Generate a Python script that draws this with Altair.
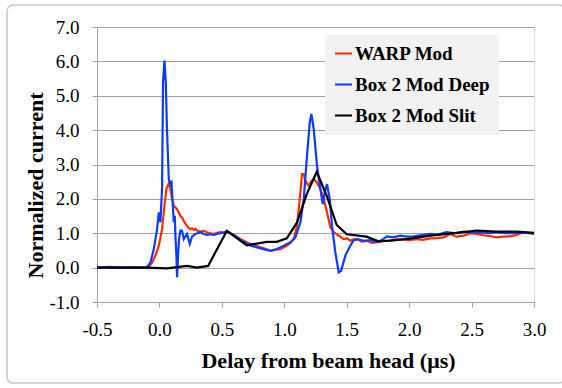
import altair as alt
import pandas as pd

SERIES = ["WARP Mod", "Box 2 Mod Deep", "Box 2 Mod Slit"]
COLORS = ["#ff2a00", "#0b3bff", "#000000"]

RED_X = [-0.5, -0.4, -0.3, -0.2, -0.1, -0.085, -0.058, -0.032, -0.005, 0.021,
         0.040, 0.056, 0.075, 0.088, 0.101, 0.115, 0.128, 0.141, 0.155, 0.168,
         0.182, 0.195, 0.208, 0.221, 0.235, 0.248, 0.262, 0.275, 0.288, 0.301,
         0.328, 0.355, 0.381, 0.408, 0.435, 0.462, 0.488, 0.515, 0.542, 0.568,
         0.595, 0.622, 0.648, 0.675, 0.702, 0.729, 0.769, 0.809, 0.849, 0.889,
         0.929, 0.969, 1.0, 1.022, 1.05, 1.076, 1.102, 1.124, 1.142, 1.156,
         1.169, 1.182, 1.196, 1.215, 1.236, 1.262, 1.289, 1.316, 1.342, 1.369,
         1.396, 1.436, 1.476, 1.503, 1.529, 1.556, 1.583, 1.62, 1.66, 1.70,
         1.743, 1.79, 1.85, 1.90, 1.956, 2.0, 2.063, 2.11, 2.17, 2.22,
         2.276, 2.33, 2.38, 2.436, 2.49, 2.543, 2.6, 2.65, 2.70, 2.75,
         2.81, 2.86, 2.916, 2.96, 3.0]
RED_Y = [0.0, 0.01, 0.0, 0.01, 0.0, 0.02, 0.15, 0.35, 0.64, 1.12,
         1.8, 2.3, 2.45, 2.3, 2.0, 1.8, 1.75, 1.7, 1.6, 1.5,
         1.45, 1.36, 1.28, 1.21, 1.16, 1.12, 1.14, 1.1, 1.13, 1.08,
         1.05, 1.07, 1.03, 1.0, 0.98, 1.01, 1.03, 1.02, 1.05, 1.0,
         0.95, 0.9, 0.83, 0.78, 0.73, 0.69, 0.64, 0.59, 0.55, 0.49,
         0.52, 0.54, 0.6, 0.64, 0.72, 0.83, 1.22, 2.0, 2.72, 2.72,
         2.53, 2.45, 2.38, 2.5, 2.58, 2.48, 2.29, 2.0, 1.61, 1.17,
         1.03, 0.93, 0.83, 0.85, 0.78, 0.82, 0.83, 0.76, 0.78, 0.72,
         0.74, 0.78, 0.78, 0.82, 0.83, 0.8, 0.83, 0.81, 0.85, 0.86,
         0.88, 0.98, 0.9, 0.93, 1.0, 0.98, 0.94, 0.92, 0.88, 0.9,
         0.91, 0.95, 1.03, 1.0, 0.98]

BLUE_X = [-0.5, -0.4, -0.3, -0.2, -0.12, -0.098, -0.072, -0.045, -0.019, -0.005,
          0.008, 0.013, 0.021, 0.029, 0.040, 0.051, 0.061, 0.075, 0.088, 0.096,
          0.107, 0.115, 0.123, 0.128, 0.136, 0.141, 0.149, 0.157, 0.168, 0.181,
          0.195, 0.221, 0.243, 0.261, 0.288, 0.328, 0.355, 0.381, 0.408, 0.435,
          0.462, 0.488, 0.515, 0.542, 0.568, 0.595, 0.622, 0.648, 0.675, 0.702,
          0.729, 0.782, 0.836, 0.889, 0.942, 0.996, 1.049, 1.089, 1.129, 1.156,
          1.182, 1.204, 1.217, 1.236, 1.262, 1.289, 1.308, 1.324, 1.342, 1.364,
          1.382, 1.409, 1.436, 1.455, 1.489, 1.529, 1.556, 1.59, 1.636, 1.69,
          1.743, 1.78, 1.823, 1.87, 1.93, 1.98, 2.036, 2.1, 2.17, 2.23,
          2.30, 2.37, 2.436, 2.5, 2.57, 2.64, 2.70, 2.77, 2.83, 2.9,
          3.0]
BLUE_Y = [0.0, 0.02, 0.0, 0.01, 0.0, 0.02, 0.15, 0.54, 1.12, 1.61,
          1.32, 1.71, 2.29, 5.39, 6.02, 5.39, 3.94, 2.58, 2.38, 2.53,
          1.80, 1.32, 1.51, 0.93, 0.35, -0.28, 0.35, 0.83, 1.08, 1.08,
          0.83, 0.98, 0.69, 0.9, 0.98, 1.03, 0.98, 0.95, 0.97, 0.95,
          0.98, 1.0, 1.02, 1.05, 1.0, 0.95, 0.88, 0.8, 0.75, 0.7,
          0.64, 0.59, 0.54, 0.49, 0.54, 0.64, 0.74, 0.88, 1.32, 2.0,
          3.26, 4.23, 4.47, 4.03, 2.96, 2.29, 1.85, 2.19, 2.43, 2.0,
          1.22, 0.44, -0.14, -0.09, 0.35, 0.64, 0.8, 0.83, 0.78, 0.8,
          0.74, 0.8, 0.91, 0.88, 0.93, 0.9, 0.91, 0.95, 0.98, 0.96,
          1.03, 1.0, 1.05, 1.02, 1.03, 1.0, 1.03, 1.0, 1.0, 1.02,
          1.0]

BLACK_X = [-0.5, -0.3, -0.1, 0.06, 0.22, 0.30, 0.39, 0.54, 0.70, 0.86,
           0.94, 1.02, 1.10, 1.18, 1.26, 1.34, 1.42, 1.50, 1.66, 1.76,
           1.98, 2.17, 2.38, 2.54, 2.70, 2.86, 3.0]
BLACK_Y = [0.0, 0.0, 0.0, -0.02, 0.05, 0.0, 0.05, 1.07, 0.65, 0.75,
           0.75, 0.85, 1.3, 2.14, 2.79, 2.09, 1.24, 0.97, 0.9, 0.76,
           0.83, 0.93, 1.01, 1.08, 1.05, 1.05, 1.01]

X_TICKS = [-0.5, 0.0, 0.5, 1.0, 1.5, 2.0, 2.5, 3.0]
Y_TICKS = [-1, 0, 1, 2, 3, 4, 5, 6, 7]

rows = []
for name, xs, ys in [(SERIES[0], RED_X, RED_Y), (SERIES[1], BLUE_X, BLUE_Y),
                     (SERIES[2], BLACK_X, BLACK_Y)]:
    for i, (a, b) in enumerate(zip(xs, ys)):
        rows.append({"t": a, "v": b, "series": name, "i": i})
df = pd.DataFrame(rows)

FONT = "Liberation Serif"
GRAY = "#a0a0a0"
LABEL_EXPR = "(datum.value < 0 ? '-' : '') + format(abs(datum.value), '.1f')"

lines = alt.Chart(df).mark_line(strokeWidth=2.2).encode(
    x=alt.X("t:Q", scale=alt.Scale(domain=[-0.5, 3.0], nice=False, zero=False),
            axis=alt.Axis(values=X_TICKS, labelExpr=LABEL_EXPR, grid=False,
                          labelFlush=False, labelOverlap=False,
                          domainColor=GRAY, tickColor=GRAY, tickSize=5,
                          labelFont=FONT, labelFontSize=19, labelColor="black",
                          labelPadding=13,
                          title="Delay from beam head (μs)", titleFont=FONT,
                          titleFontSize=22, titleFontWeight="bold", titleColor="black",
                          titleX=231, titleY=65, titleBaseline="alphabetic",
                          titleAlign="center")),
    y=alt.Y("v:Q", scale=alt.Scale(domain=[-1, 7], nice=False, zero=False),
            axis=alt.Axis(values=Y_TICKS, labelExpr=LABEL_EXPR, grid=True,
                          labelFlush=False, labelOverlap=False,
                          gridColor=GRAY, gridWidth=1.2,
                          domainColor=GRAY, tickColor=GRAY, tickSize=5,
                          labelFont=FONT, labelFontSize=19, labelColor="black",
                          labelPadding=13,
                          title="Normalized current", titleFont=FONT,
                          titleFontSize=22, titleFontWeight="bold", titleColor="black",
                          titleX=-55, titleY=158, titleAngle=270,
                          titleBaseline="alphabetic", titleAlign="center")),
    color=alt.Color("series:N", sort=SERIES,
                    scale=alt.Scale(domain=SERIES, range=COLORS),
                    legend=alt.Legend(title=None, orient="none", legendX=228, legendY=8,
                                      fillColor="#f2f2f2", padding=9,
                                      symbolType="stroke", symbolSize=289,
                                      symbolStrokeWidth=2, labelFont=FONT,
                                      labelFontSize=19, labelFontWeight="bold",
                                      labelColor="black", labelOffset=2,
                                      rowPadding=11)),
    order="i:Q",
)

frame = alt.Chart(pd.DataFrame({"a": [0]})).mark_rect(
    fill="transparent", stroke="#c8c8c8", strokeWidth=1.5, cornerRadius=6
).encode(x=alt.value(-90), x2=alt.value(468), y=alt.value(-22), y2=alt.value(356))

chart = alt.layer(frame, lines).properties(
    width=437, height=275,
    padding={"left": 97, "top": 27, "right": 28, "bottom": 86},
    autosize="none",
).configure_view(stroke="transparent").configure(background="white", font=FONT)

chart.save("out.html", embed_options={"renderer": "svg", "actions": False})
